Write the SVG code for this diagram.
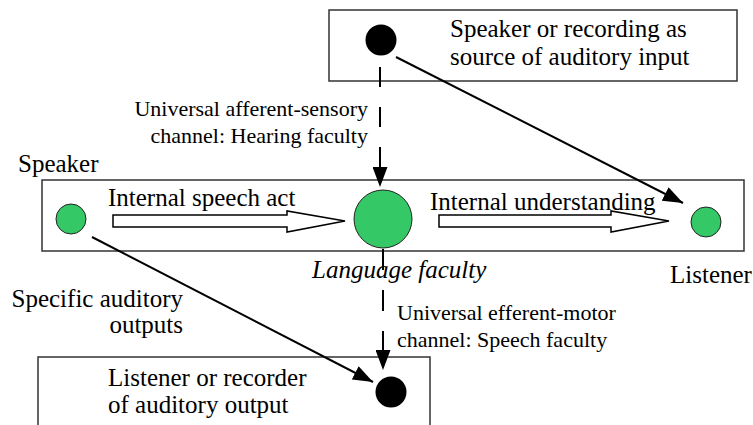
<svg xmlns="http://www.w3.org/2000/svg" width="753" height="425" viewBox="0 0 753 425">
<style>
.box{fill:#fff;stroke:#333;stroke-width:1.5}
.t{font-family:"Liberation Serif","Times New Roman",serif;fill:#000}
.big{font-size:25px}
.small{font-size:22px}
.green{fill:#35c866;stroke:#222;stroke-width:1}
.dot{fill:#000}
.hollow{fill:#fff;stroke:#000;stroke-width:1.5;stroke-linejoin:miter}
.conn{fill:none;stroke:#000;stroke-width:2}
.dash{stroke-dasharray:20 20}
.dash2{stroke-dasharray:21 20}
</style>
<defs>
<marker id="ah" markerUnits="userSpaceOnUse" markerWidth="20" markerHeight="15" refX="20" refY="7.5" orient="auto" viewBox="0 0 20 15">
<path d="M0,0 L20,7.5 L0,15 Z" fill="#000"/>
</marker>
</defs>
<rect width="753" height="425" fill="#fff"/>

<g id="source">
<rect class="box" x="329" y="10" width="408" height="71"/>
<circle class="dot" cx="381" cy="40" r="15.5"/>
<text class="t big" x="450" y="37">Speaker or recording as</text>
<text class="t big" x="450" y="65">source of auditory input</text>
</g>

<g id="channel">
<rect class="box" x="42" y="180" width="702" height="71"/>
<polygon class="hollow" points="113,215 287,215 287,211 345,221 287,232 287,227 113,227"/>
<polygon class="hollow" points="439,215 611,215 611,211 669,221 611,232 611,227 439,227"/>
<text class="t big" x="108" y="206">Internal speech act</text>
<text class="t big" x="430" y="210">Internal understanding</text>
</g>

<g id="speaker">
<circle class="green" cx="71" cy="219" r="15"/>
<text class="t big" x="18" y="172">Speaker</text>
</g>

<g id="language-faculty">
<circle class="green" cx="383" cy="219" r="29"/>
<text class="t big" x="312" y="278" font-style="italic">Language faculty</text>
</g>

<g id="listener">
<circle class="green" cx="706" cy="222" r="15"/>
<text class="t big" x="670" y="283">Listener</text>
</g>

<g id="recorder">
<rect class="box" x="38" y="357" width="392" height="90"/>
<circle class="dot" cx="391" cy="392" r="15.5"/>
<text class="t big" x="108" y="386">Listener or recorder</text>
<text class="t big" x="108" y="413">of auditory output</text>
</g>

<g id="labels">
<text class="t small" x="368" y="116" text-anchor="end">Universal afferent-sensory</text>
<text class="t small" x="368" y="143" text-anchor="end">channel: Hearing faculty</text>
<text class="t small" x="397" y="320">Universal efferent-motor</text>
<text class="t small" x="397" y="347">channel: Speech faculty</text>
<text class="t big" x="183" y="307" text-anchor="end">Specific auditory</text>
<text class="t big" x="183" y="333" text-anchor="end">outputs</text>
</g>

<g id="connectors">
<path class="conn dash" d="M380,67 V187" marker-end="url(#ah)"/>
<path class="conn dash2" d="M383,249 V370" marker-end="url(#ah)"/>
<path class="conn" d="M396,57 L683,203" marker-end="url(#ah)"/>
<path class="conn" d="M92,237 L373,382" marker-end="url(#ah)"/>
</g>
</svg>
